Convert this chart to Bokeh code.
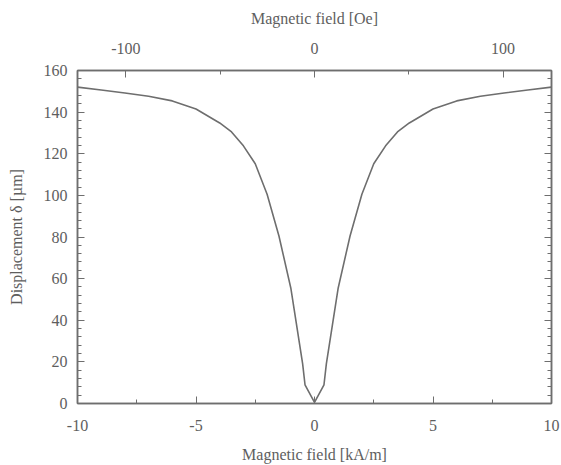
from bokeh.plotting import figure
from bokeh.models import Range1d, LinearAxis, FixedTicker
from bokeh.embed import file_html
from bokeh.resources import INLINE

# Data
field_kam = [-10, -9, -8, -7, -6, -5, -4, -3.5, -3, -2.5, -2, -1.5, -1, -0.5, -0.4, 0,
             0.4, 0.5, 1, 1.5, 2, 2.5, 3, 3.5, 4, 5, 6, 7, 8, 9, 10]
displacement = [152, 150.6, 149.2, 147.6, 145.4, 141.5, 134.8, 130.5, 123.8, 115.2, 100.5, 80.5, 55.5, 19, 9, 0.5,
                9, 19, 55.5, 80.5, 100.5, 115.2, 123.8, 130.5, 134.8, 141.5, 145.4, 147.6, 149.2, 150.6, 152]

x_ticks = [-10, -5, 0, 5, 10]
x_minor = [-7.5, -2.5, 2.5, 7.5]
y_ticks = [0, 20, 40, 60, 80, 100, 120, 140, 160]
y_minor = list(range(0, 161, 4))
oe_ticks = [-100, 0, 100]
oe_minor = [-50, 50]
OE_PER_KAM = 1000 / 79.5775

FONT = "Liberation Serif"
TXT = "#5e5e5e"
LINE = "#6e6e6e"

p = figure(output_backend="svg", toolbar_location=None,
           frame_width=474, frame_height=333,
           min_border_left=77, min_border_right=9, min_border_top=70, min_border_bottom=61,
           x_range=Range1d(-10, 10), y_range=Range1d(0, 160),
           x_axis_location=None, y_axis_location=None)
p.extra_x_ranges = {"oe": Range1d(-10 * OE_PER_KAM, 10 * OE_PER_KAM)}

p.grid.visible = False
p.outline_line_color = LINE
p.outline_line_width = 1.5

p.line(field_kam, displacement, line_color=LINE, line_width=1.6)

bottom = LinearAxis(axis_label="Magnetic field [kA/m]",
                    ticker=FixedTicker(ticks=x_ticks, minor_ticks=x_minor))
bottom.major_label_overrides = {t: str(t) for t in x_ticks}
p.add_layout(bottom, "below")

left = LinearAxis(axis_label="Displacement δ [µm]",
                  ticker=FixedTicker(ticks=y_ticks, minor_ticks=y_minor))
p.add_layout(left, "left")

top = LinearAxis(x_range_name="oe", axis_label="Magnetic field [Oe]",
                 ticker=FixedTicker(ticks=oe_ticks, minor_ticks=oe_minor))
top.major_label_overrides = {t: str(t) for t in oe_ticks}
p.add_layout(top, "above")

right = LinearAxis(ticker=FixedTicker(ticks=y_ticks, minor_ticks=y_minor))
right.major_label_overrides = {t: "" for t in y_ticks}
p.add_layout(right, "right")

for ax in [bottom, left, top, right]:
    ax.axis_line_color = LINE
    ax.axis_line_width = 1.5
    ax.major_tick_line_color = LINE
    ax.minor_tick_line_color = LINE
    ax.major_tick_in = 7
    ax.major_tick_out = 0
    ax.minor_tick_in = 4
    ax.minor_tick_out = 0
    ax.major_label_text_font = FONT
    ax.major_label_text_color = TXT
    ax.major_label_text_font_size = "16px"
    ax.axis_label_text_font = FONT
    ax.axis_label_text_color = TXT
    ax.axis_label_text_font_style = "normal"
    ax.axis_label_text_font_size = "16px"

bottom.major_label_standoff = 16
bottom.axis_label_standoff = 12
top.major_label_standoff = 17
top.axis_label_standoff = 13
left.major_label_standoff = 10
left.axis_label_standoff = 16
right.major_label_standoff = 0

open("out.html", "w").write(file_html(p, INLINE))
